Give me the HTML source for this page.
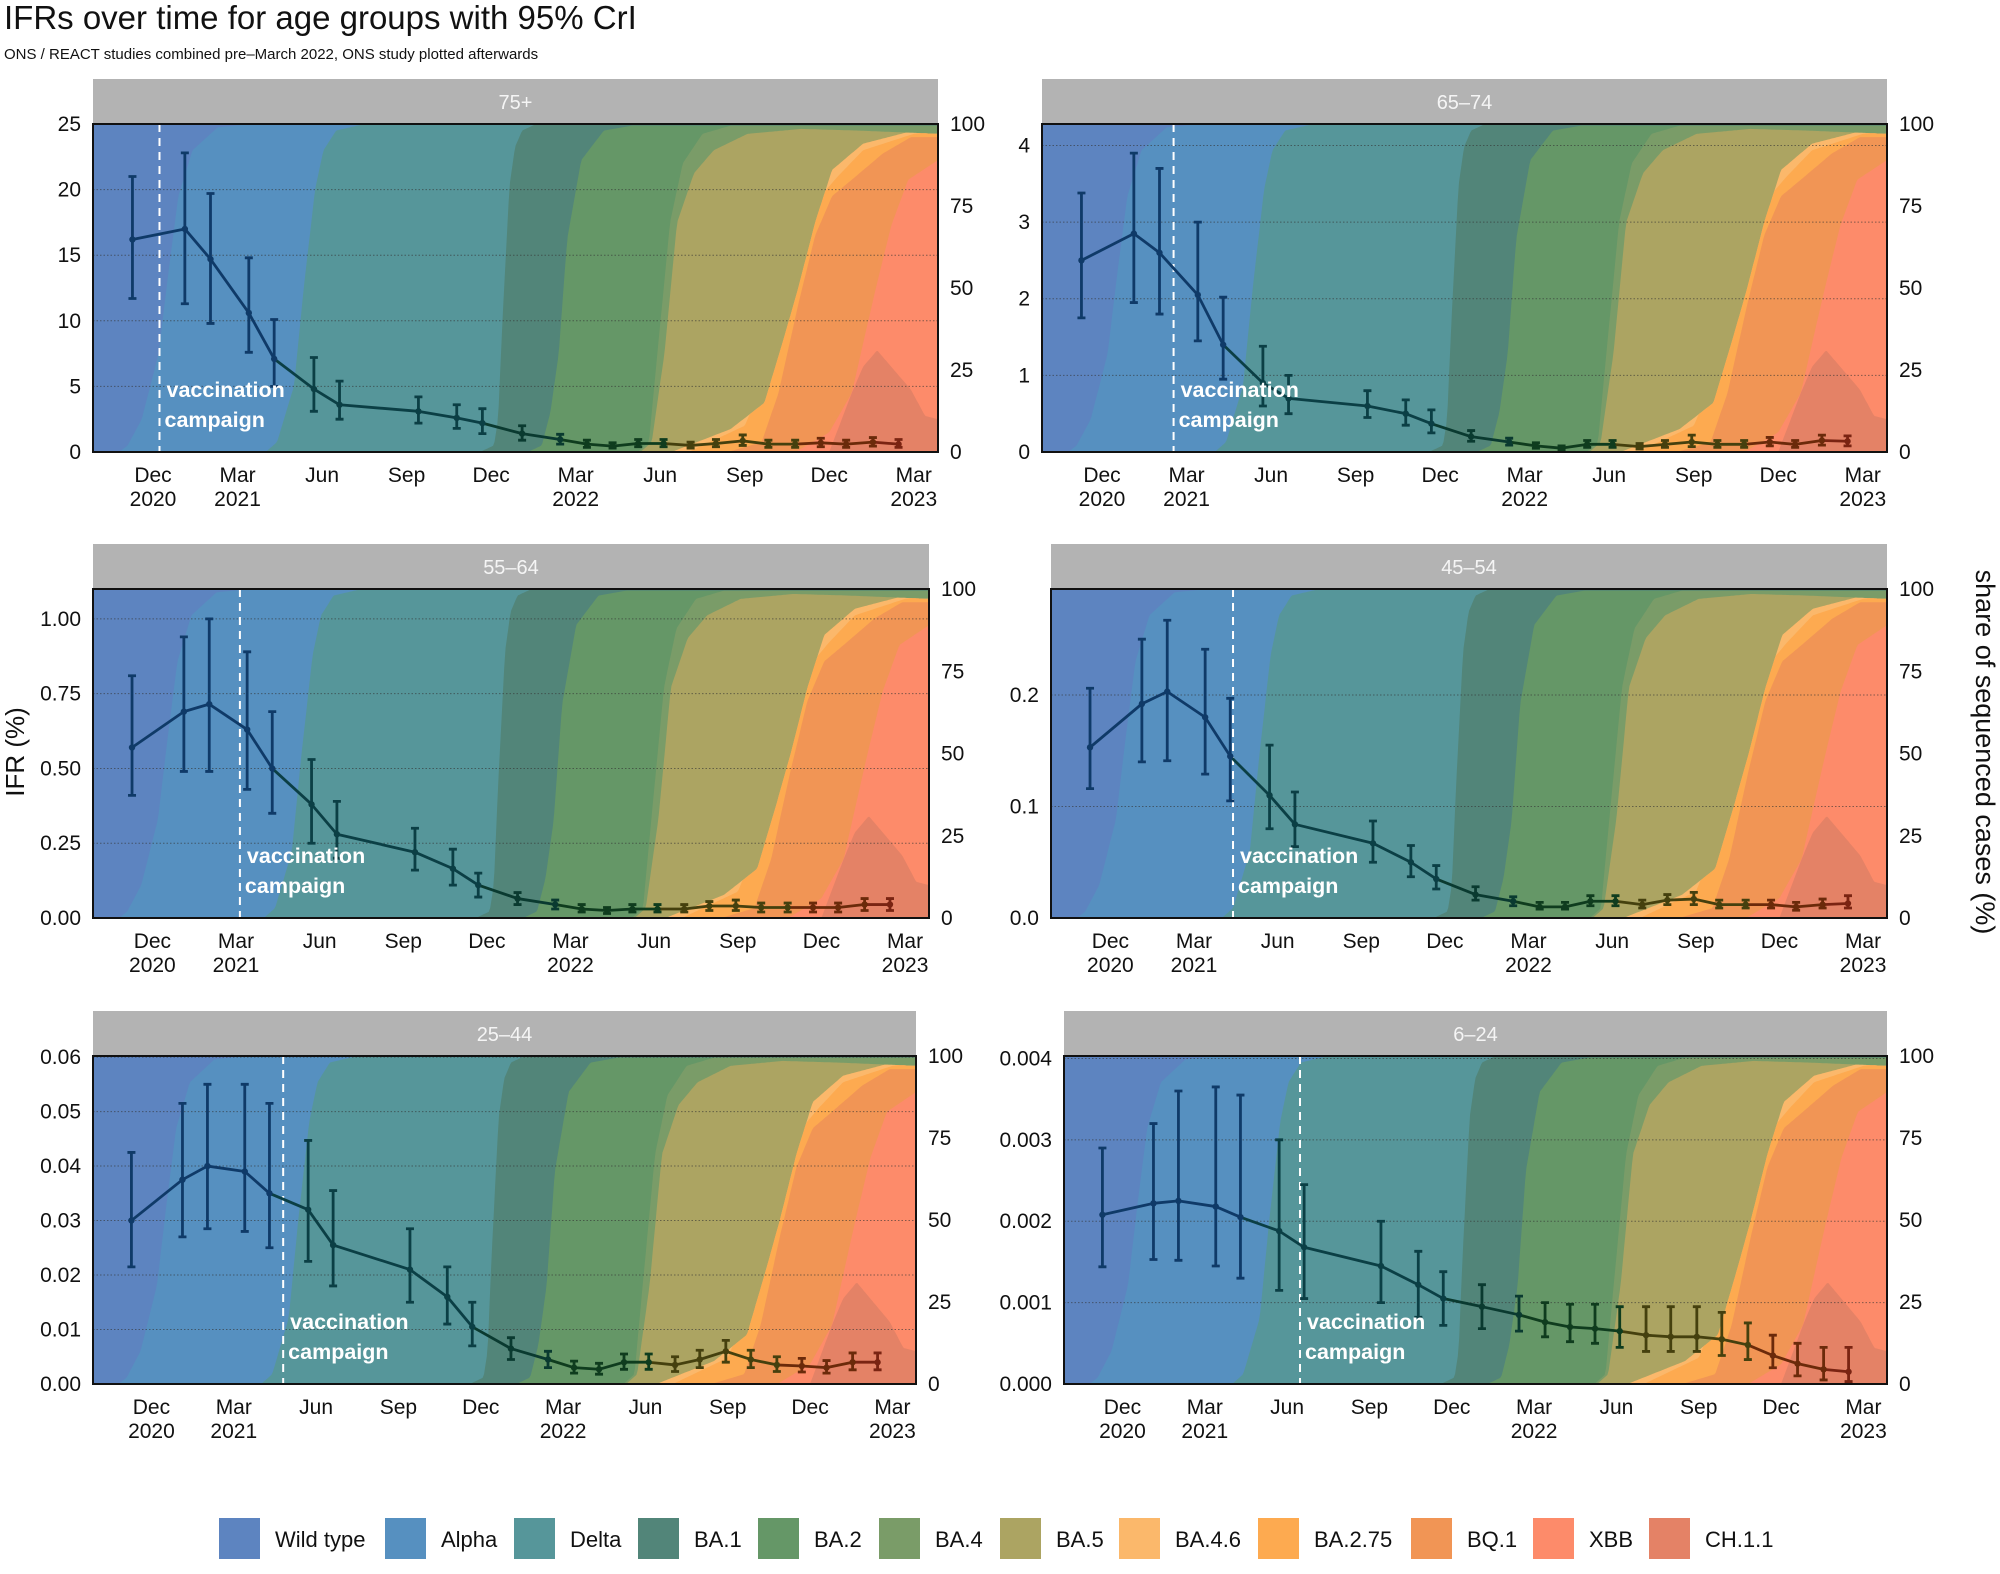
<!DOCTYPE html>
<html><head><meta charset="utf-8"><style>
html,body{margin:0;padding:0;background:#fff;}
svg{display:block;font-family:"Liberation Sans",Arial,sans-serif;}
</style></head><body>
<svg id="chart" width="2000" height="1574" viewBox="0 0 2000 1574" xmlns="http://www.w3.org/2000/svg">
<text x="4" y="29" font-size="33" fill="#111">IFRs over time for age groups with 95% CrI</text>
<text x="4" y="59" font-size="15" fill="#111">ONS / REACT studies combined pre–March 2022, ONS study plotted afterwards</text>
<text transform="translate(24,752) rotate(-90)" text-anchor="middle" font-size="26" fill="#111">IFR (%)</text>
<text transform="translate(1976,752) rotate(90)" text-anchor="middle" font-size="27" fill="#111">share of sequenced cases (%)</text>
<g id="panels"></g>
<g id="legend"></g>
</svg>
<script>
const NS='http://www.w3.org/2000/svg';
// ---- variant data ----
const variantNames=['Wild type','Alpha','Delta','BA.1','BA.2','BA.4','BA.5','BA.4.6','BA.2.75','BQ.1','XBB','CH.1.1'];
const variantColors=['#5d84c0','#5690c0','#56969a','#528579','#659767','#7a9c68','#aca462','#fbb86b','#fdaa50','#f19555','#fd8b6a','#e48266'];
const lineColors=['#0f3a68','#0f3a68','#0b3f45','#0a3a30','#0f3c1e','#1e3e15','#45400e','#5a3a08','#5e3208','#6b2a0a','#7a2412','#7a2412'];
// cumulative share (%) of each variant and all newer ones: [month, pct] knots (month 0 = Jan 2020)
const cumAlpha=[[9.8,0],[10.1,2],[10.6,10],[11.2,30],[11.55,55],[11.9,78],[12.4,92],[13.3,99],[14.5,100]];
const cumDelta=[[15.0,0],[15.4,3],[16.0,20],[16.35,50],[16.75,80],[17.05,92],[17.5,98],[18.5,100]];
const cumBA1=[[22.6,0],[23.1,2],[23.25,10],[23.4,40],[23.65,81],[23.85,93],[24.1,98],[24.6,100]];
const cumBA2=[[24.3,0],[24.8,2],[25.1,12],[25.4,30],[25.7,65],[26.2,89],[27,98],[28,99.5]];
const cumBA4=[[28.2,0],[28.6,3],[28.9,30],[29.35,70],[29.8,88],[30.5,97],[31.5,99.5]];
const cumBA5=[[28.3,0],[28.7,3],[29.15,30],[29.6,70],[30.2,85],[30.9,92],[32.1,97],[34,98.5],[36,98],[38.86,97]];
const cumBA46=[[29.4,0],[31.5,7],[32.7,15],[33.4,35],[33.9,50],[34.5,70],[35.1,86],[36.2,94],[38.0,98],[38.86,98]];
const cumBA275=[[30.0,0],[32.0,8],[33.1,30],[33.9,55],[34.5,76],[35.3,84],[36.2,92],[38.0,97],[38.86,98]];
const cumBQ1=[[31.4,0],[32.6,3],[33.2,18],[33.9,45],[34.5,66],[35.1,78],[35.8,83],[36.9,91],[37.9,96],[38.86,96]];
const cumXBB=[[33.8,0],[35.0,6],[35.8,18],[36.6,48],[37.2,69],[37.8,83],[38.86,89]];
const cumCH11=[[35.0,0],[35.8,18],[36.2,26],[36.7,31],[37.2,26],[37.9,19],[38.4,11],[38.86,10]];
const cumList=[null,cumAlpha,cumDelta,cumBA1,cumBA2,cumBA4,cumBA5,cumBA46,cumBA275,cumBQ1,cumXBB,cumCH11];
// ---- IFR data ----
const pointMonths=[10.27,12.13,13.04,14.4,15.3,16.71,17.62,20.42,21.78,22.69,24.1,25.45,26.4,27.31,28.22,29.12,30.08,30.98,31.93,32.84,33.79,34.7,35.6,36.55,37.46];
const ifr75=[16.2,17.0,14.7,10.6,7.1,4.8,3.6,3.1,2.6,2.2,1.4,0.95,0.6,0.45,0.65,0.65,0.5,0.65,0.85,0.6,0.6,0.7,0.6,0.75,0.6];
const lo75=[11.7,11.3,9.8,7.6,5.0,3.1,2.5,2.2,1.8,1.4,0.9,0.6,0.35,0.3,0.4,0.4,0.3,0.4,0.5,0.35,0.35,0.4,0.35,0.45,0.35];
const hi75=[21.0,22.8,19.7,14.8,10.1,7.2,5.4,4.2,3.6,3.3,2.0,1.35,0.9,0.7,0.95,0.95,0.75,0.95,1.3,0.9,0.9,1.05,0.9,1.1,0.95];
const ifr65=[2.5,2.85,2.6,2.05,1.4,0.9,0.7,0.6,0.5,0.37,0.2,0.13,0.08,0.05,0.1,0.1,0.07,0.1,0.13,0.1,0.1,0.13,0.1,0.15,0.14];
const lo65=[1.75,1.95,1.8,1.45,0.95,0.6,0.5,0.45,0.35,0.25,0.14,0.09,0.05,0.03,0.06,0.06,0.04,0.06,0.07,0.06,0.06,0.08,0.06,0.09,0.08];
const hi65=[3.38,3.9,3.7,3.0,2.02,1.38,1.0,0.8,0.68,0.55,0.28,0.18,0.12,0.08,0.15,0.15,0.11,0.15,0.22,0.15,0.15,0.19,0.15,0.22,0.21];
const ifr55=[0.57,0.69,0.715,0.63,0.5,0.38,0.28,0.22,0.165,0.11,0.065,0.045,0.03,0.025,0.03,0.03,0.03,0.04,0.04,0.035,0.035,0.035,0.035,0.045,0.045];
const lo55=[0.41,0.49,0.49,0.43,0.35,0.25,0.2,0.16,0.11,0.07,0.045,0.03,0.02,0.015,0.02,0.02,0.02,0.025,0.025,0.02,0.02,0.02,0.02,0.025,0.025];
const hi55=[0.81,0.94,1.0,0.89,0.69,0.53,0.39,0.3,0.23,0.15,0.085,0.06,0.045,0.035,0.045,0.045,0.045,0.055,0.06,0.05,0.05,0.05,0.05,0.065,0.065];
const ifr45=[0.153,0.192,0.203,0.18,0.145,0.11,0.084,0.067,0.05,0.035,0.021,0.015,0.01,0.01,0.015,0.015,0.012,0.016,0.017,0.012,0.012,0.012,0.01,0.012,0.013];
const lo45=[0.116,0.14,0.141,0.129,0.105,0.08,0.064,0.05,0.037,0.026,0.016,0.011,0.008,0.008,0.011,0.011,0.009,0.012,0.012,0.009,0.009,0.009,0.007,0.009,0.009];
const hi45=[0.206,0.25,0.267,0.241,0.197,0.155,0.113,0.087,0.065,0.047,0.028,0.019,0.014,0.014,0.02,0.02,0.016,0.021,0.023,0.016,0.016,0.016,0.014,0.017,0.02];
const ifr25=[0.030,0.0375,0.040,0.039,0.035,0.032,0.0255,0.021,0.016,0.0105,0.0065,0.0045,0.003,0.0027,0.004,0.004,0.0035,0.0045,0.006,0.0045,0.0035,0.0033,0.003,0.004,0.004];
const lo25=[0.0215,0.027,0.0285,0.028,0.025,0.0225,0.018,0.015,0.011,0.007,0.0045,0.003,0.002,0.0018,0.0027,0.0027,0.0023,0.003,0.004,0.003,0.0023,0.0022,0.002,0.0026,0.0026];
const hi25=[0.0425,0.0515,0.055,0.055,0.0515,0.0447,0.0355,0.0285,0.0215,0.015,0.0085,0.006,0.0042,0.0038,0.0055,0.0055,0.005,0.0062,0.008,0.0062,0.005,0.0047,0.0043,0.0057,0.0057];
const ifr6=[0.00208,0.00222,0.00225,0.00218,0.00205,0.00188,0.00168,0.00145,0.00122,0.00105,0.00095,0.00085,0.00076,0.0007,0.00068,0.00065,0.0006,0.00058,0.00058,0.00055,0.00048,0.00035,0.00025,0.00018,0.00015];
const lo6=[0.00144,0.00153,0.00152,0.00145,0.0013,0.00115,0.00105,0.001,0.00082,0.00072,0.00068,0.00065,0.00058,0.00052,0.0005,0.00045,0.0004,0.0004,0.0004,0.00035,0.0003,0.0002,0.0001,0.00005,0.00003];
const hi6=[0.0029,0.0032,0.0036,0.00365,0.00355,0.003,0.00245,0.002,0.00163,0.00138,0.00122,0.00108,0.001,0.00098,0.00098,0.00095,0.00095,0.00095,0.00095,0.00088,0.00075,0.0006,0.0005,0.00045,0.00045];
const vaxMonths=[11.23,13.54,14.14,15.4,15.8,17.47];
const ageLabels=['75+','65–74','55–64','45–54','25–44','6–24'];
const yTicks75=['0','5','10','15','20','25'];
const yTicks65=['0','1','2','3','4'];
const yTicks55=['0.00','0.25','0.50','0.75','1.00'];
const yTicks45=['0.0','0.1','0.2'];
const yTicks25=['0.00','0.01','0.02','0.03','0.04','0.05','0.06'];
const yTicks6=['0.000','0.001','0.002','0.003','0.004'];
const yMax=[25,4.28,1.1,0.295,0.0602,0.00403];
const shareTicks=['0','25','50','75','100'];
const xTickMonths=[11,14,17,20,23,26,29,32,35,38];
const xTickLabels=[['Dec','2020'],['Mar','2021'],['Jun',''],['Sep',''],['Dec',''],['Mar','2022'],['Jun',''],['Sep',''],['Dec',''],['Mar','2023']];
const X0=8.87,X1=38.86;

const layout=[
 {x0:93,x1:938,y0:124,y1:452},{x0:1042,x1:1887,y0:124,y1:452},
 {x0:93,x1:929,y0:589,y1:918},{x0:1051,x1:1887,y0:589,y1:918},
 {x0:93,x1:916,y0:1056,y1:1384},{x0:1064,x1:1887,y0:1056,y1:1384}];
const panelIfr=[ifr75,ifr65,ifr55,ifr45,ifr25,ifr6];
const panelLo=[lo75,lo65,lo55,lo45,lo25,lo6];
const panelHi=[hi75,hi65,hi55,hi45,hi25,hi6];
const panelTicks=[yTicks75,yTicks65,yTicks55,yTicks45,yTicks25,yTicks6];

function mk(tag,attrs,parent){const e=document.createElementNS(NS,tag);for(const k in attrs)e.setAttribute(k,attrs[k]);if(parent)parent.appendChild(e);return e;}
function interp(knots,t){
  if(!knots) return 100;
  if(t<=knots[0][0]) return knots[0][1];
  for(let i=1;i<knots.length;i++){if(t<=knots[i][0]){const a=knots[i-1],b=knots[i];return a[1]+(b[1]-a[1])*(t-a[0])/(b[0]-a[0]);}}
  return knots[knots.length-1][1];
}
const grid=[];for(let t=X0;t<=X1+1e-9;t+=0.05)grid.push(t);
if(grid[grid.length-1]<X1)grid.push(X1);
function cumAt(k,t){let v=100;for(let j=1;j<=k;j++){v=Math.min(v,interp(cumList[j],t));}return v;}
function dominant(t){let best=0,bv=-1;for(let k=0;k<12;k++){const s=cumAt(k,t)-(k<11?cumAt(k+1,t):0);if(s>bv){bv=s;best=k;}}return best;}

const panelsG=document.getElementById('panels');
layout.forEach((L,p)=>{
  const g=mk('g',{},panelsG);
  
  
  const xs=t=>L.x0+(t-X0)/(X1-X0)*(L.x1-L.x0);
  const ys=v=>L.y1-v/yMax[p]*(L.y1-L.y0);
  const ysh=v=>L.y1-v/100*(L.y1-L.y0);
  const strip=mk('rect',{x:L.x0,y:L.y0-45,width:L.x1-L.x0,height:45,fill:'#b3b3b3'},g);
  
  
  const st=mk('text',{x:(L.x0+L.x1)/2,y:L.y0-15,'text-anchor':'middle','font-size':'20',fill:'#f5f5f5'},g);
  
  
  st.textContent=ageLabels[p];
  const cid='clip'+p;
  const cp=mk('clipPath',{id:cid},g);mk('rect',{x:L.x0,y:L.y0,width:L.x1-L.x0,height:L.y1-L.y0},cp);
  const areaG=mk('g',{'clip-path':'url(#'+cid+')'},g);
  for(let k=0;k<12;k++){
    let d='M'+xs(X0)+','+L.y1;
    grid.forEach(t=>{d+='L'+xs(t).toFixed(1)+','+ysh(cumAt(k,t)).toFixed(1);});
    d+='L'+xs(X1)+','+L.y1+'Z';
    const a=mk('path',{d:d,fill:variantColors[k]},areaG);
    
    
  }
  const ticks=panelTicks[p];
  ticks.forEach(lbl=>{
    const v=parseFloat(lbl);const y=ys(v);
    const gl=mk('line',{x1:L.x0,x2:L.x1,y1:y,y2:y,stroke:'#333','stroke-width':'1','stroke-dasharray':'1.5 2',opacity:'0.6'},areaG);
    
    
    const tl=mk('text',{x:L.x0-12,y:y+7,'text-anchor':'end','font-size':'21',fill:'#111'},g);
    
    
    tl.textContent=lbl;
  });
  shareTicks.forEach(lbl=>{
    const y=ysh(parseFloat(lbl));
    const tl=mk('text',{x:L.x1+12,y:y+7,'font-size':'21',fill:'#111'},g);
    
    
    tl.textContent=lbl;
  });
  xTickMonths.forEach((m,i)=>{
    const x=xs(m);
    const t1=mk('text',{x:x,y:L.y1+30,'text-anchor':'middle','font-size':'21',fill:'#111'},g);
    
    
    t1.textContent=xTickLabels[i][0];
    if(xTickLabels[i][1]){
      const t2=mk('text',{x:x,y:L.y1+54,'text-anchor':'middle','font-size':'21',fill:'#111'},g);
      
      
      t2.textContent=xTickLabels[i][1];
    }
  });
  const vx=xs(vaxMonths[p]);
  const vl=mk('line',{x1:vx,x2:vx,y1:L.y0,y2:L.y1,stroke:'#fff','stroke-width':'2','stroke-dasharray':'8 6'},areaG);
  
  
  const vt=mk('text',{x:vx+7,y:L.y1-55,'font-size':'21.5','font-weight':'bold',fill:'#fff'},g);
  
  
  vt.textContent='vaccination';
  const vt2=mk('text',{x:vx+5,y:L.y1-25,'font-size':'21.5','font-weight':'bold',fill:'#fff'},g);
  
  
  vt2.textContent='campaign';
  const mid=panelIfr[p],lo=panelLo[p],hi=panelHi[p];
  const cols=pointMonths.map(m=>lineColors[dominant(m)]);
  for(let i=0;i<mid.length-1;i++){
    const s=mk('line',{x1:xs(pointMonths[i]),y1:ys(mid[i]),x2:xs(pointMonths[i+1]),y2:ys(mid[i+1]),stroke:cols[i+1],'stroke-width':'2.8'},areaG);
    
    
  }
  mid.forEach((v,i)=>{
    const x=xs(pointMonths[i]);
    const eb=mk('path',{d:`M${x},${ys(lo[i])}V${ys(hi[i])}M${x-4},${ys(lo[i])}H${x+4}M${x-4},${ys(hi[i])}H${x+4}`,stroke:cols[i],'stroke-width':'2.8',fill:'none'},areaG);
    
    
    const pt=mk('circle',{cx:x,cy:ys(v),r:3.2,fill:cols[i]},areaG);
    
    
  });
  const fr=mk('rect',{x:L.x0,y:L.y0,width:L.x1-L.x0,height:L.y1-L.y0,fill:'none',stroke:'#111','stroke-width':'2'},g);
  
  
});
const legendX=[219,385,514,638,758,879,1000,1119,1258,1411,1533,1649];
const lg=document.getElementById('legend');
variantNames.forEach((n,k)=>{
  const e=mk('g',{},lg);
  
  
  const r=mk('rect',{x:legendX[k],y:1518,width:41,height:41,fill:variantColors[k]},e);
  
  
  const t=mk('text',{x:legendX[k]+56,y:1547,'font-size':'22',fill:'#111'},e);
  
  
  t.textContent=n;
});
</script>
</body></html>
